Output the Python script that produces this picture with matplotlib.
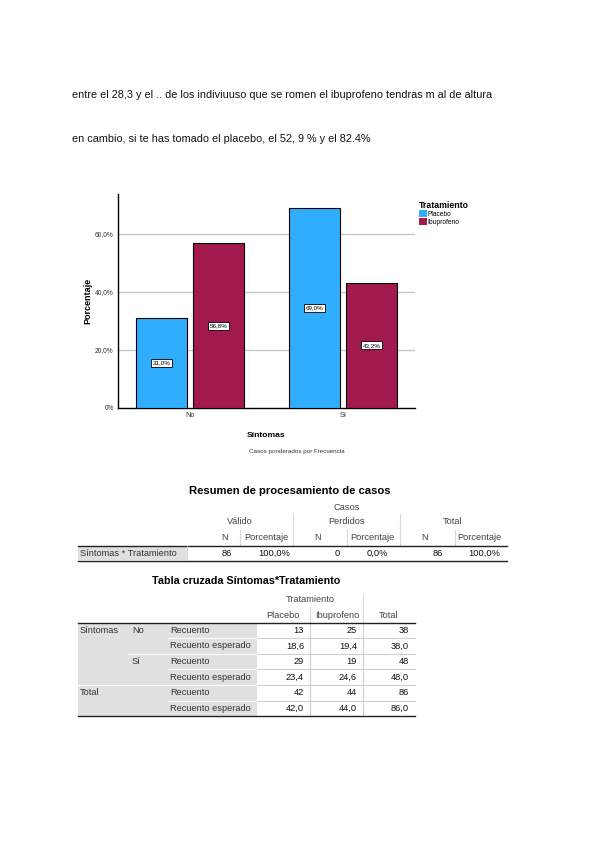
import matplotlib
matplotlib.use("Agg")
import matplotlib.pyplot as plt
from matplotlib.patches import Rectangle
from matplotlib.lines import Line2D

plt.rcParams['font.family'] = ['Liberation Sans', 'DejaVu Sans']

# ---------------- data ----------------
intro_lines = [
    "entre el 28,3 y el .. de los indiviuuso que se romen el ibuprofeno tendras m al de altura",
    "en cambio, si te has tomado el placebo, el 52, 9 % y el 82.4%",
]
categories = ["No", "Sí"]
series_names = ["Placebo", "Ibuprofeno"]
placebo_pct = [31.0, 69.0]
ibuprofeno_pct = [56.8, 43.2]
ytick_vals = [0, 20, 40, 60]
ytick_labels = ["0%", "20,0%", "40,0%", "60,0%"]
colors = ["#30aefd", "#a2194e"]

t1_title = "Resumen de procesamiento de casos"
t1_groups = ["Válido", "Perdidos", "Total"]
t1_subheads = ["N", "Porcentaje", "N", "Porcentaje", "N", "Porcentaje"]
t1_rowlabel = "Síntomas * Tratamiento"
t1_values = ["86", "100,0%", "0", "0,0%", "86", "100,0%"]

t2_title = "Tabla cruzada Síntomas*Tratamiento"
t2_cols = ["Placebo", "Ibuprofeno", "Total"]
t2_group_labels = ["Síntomas", "", "", "", "Total", ""]
t2_level_labels = ["No", "", "Sí", "", "", ""]
t2_stat_labels = ["Recuento", "Recuento esperado"] * 3
t2_values = [
    ["13", "25", "38"],
    ["18,6", "19,4", "38,0"],
    ["29", "19", "48"],
    ["23,4", "24,6", "48,0"],
    ["42", "44", "86"],
    ["42,0", "44,0", "86,0"],
]

# ---------------- figure ----------------
W, H = 600, 848
fig = plt.figure(figsize=(W / 100, H / 100), dpi=100)
fig.patch.set_facecolor("white")


def fx(x):
    return x / W


def fy(y):
    return 1 - y / H


def ftext(x, y, s, **kw):
    kw.setdefault("va", "center")
    fig.text(fx(x), fy(y), s, **kw)


def fline(x0, x1, y0, y1, color="#000000", lw=0.8):
    fig.add_artist(Line2D([fx(x0), fx(x1)], [fy(y0), fy(y1)],
                          transform=fig.transFigure, color=color, lw=lw))


def frect(x0, y0, x1, y1, color):
    fig.add_artist(Rectangle((fx(x0), fy(y1)), fx(x1) - fx(x0), fy(y0) - fy(y1),
                             transform=fig.transFigure, facecolor=color,
                             edgecolor="none"))


TFS = 6.7  # table font size

# intro text
ftext(72, 95, intro_lines[0], fontsize=7.85, color="#111111")
ftext(72, 139, intro_lines[1], fontsize=7.85, color="#111111")

# ---------------- bar chart ----------------
ax_l, ax_r, ax_t, ax_b = 118, 415, 194, 408
ax = fig.add_axes([fx(ax_l), fy(ax_b), fx(ax_r) - fx(ax_l), fy(ax_t) - fy(ax_b)])
width = 0.33
offset = 0.187
xs = list(range(len(categories)))
for i, (vals, name) in enumerate(zip([placebo_pct, ibuprofeno_pct], series_names)):
    pos = [x + (-offset if i == 0 else offset) for x in xs]
    bars = ax.bar(pos, vals, width=width, color=colors[i], edgecolor="black",
                  linewidth=0.8, label=name, zorder=3)
    for b, v in zip(bars, vals):
        ax.text(b.get_x() + b.get_width() / 2, v / 2, f"{v:.1f}%".replace(".", ","),
                ha="center", va="center", fontsize=4.5, zorder=4,
                bbox=dict(boxstyle="square,pad=0.25", facecolor="white",
                          edgecolor="black", linewidth=0.6))

ax.set_xlim(-0.47, 1.47)
ax.set_ylim(0, 73.8)
ax.set_yticks(ytick_vals)
ax.set_yticklabels(ytick_labels, fontsize=4.8, color="#333333")
ax.set_xticks(xs)
ax.set_xticklabels(categories, fontsize=5.3, color="#333333")
ax.tick_params(length=0, pad=3)
for v in ytick_vals[1:]:
    ax.axhline(v, color="#c8c8c8", lw=1.0, zorder=1)
for s in ["top", "right"]:
    ax.spines[s].set_visible(False)
ax.spines["left"].set_linewidth(1.0)
ax.spines["bottom"].set_linewidth(1.0)
ax.set_ylabel("Porcentaje", fontsize=6.5, fontweight="bold", labelpad=2)
ax.set_xlabel("Síntomas", fontsize=6.1, fontweight="bold", labelpad=9)

leg = ax.legend(title="Tratamiento", loc="upper left",
                bbox_to_anchor=(fx(414), fy(196)), bbox_transform=fig.transFigure,
                fontsize=4.8, title_fontsize=6.3, frameon=False,
                handlelength=1.2, handleheight=1.1, handletextpad=0.1,
                labelspacing=0.1, borderpad=0.2, alignment="left")
leg.get_title().set_fontweight("bold")
for p in leg.get_patches():
    p.set_edgecolor("none")

ftext(297, 451, "Casos ponderados por Frecuencia", fontsize=4.5, color="#333333",
      ha="center")

# ---------------- table 1 ----------------
ftext(290, 491, t1_title, fontsize=8.1, fontweight="bold", ha="center")
hdr_col = "#444444"
ftext(347, 508, "Casos", fontsize=TFS, color=hdr_col, ha="center")
for g, cx in zip(t1_groups, [240, 347, 453]):
    ftext(cx, 522, g, fontsize=TFS, color=hdr_col, ha="center")
sub_centers = [225, 266, 318, 372, 425, 479]
for s, cx in zip(t1_subheads, sub_centers):
    ftext(cx, 537, s, fontsize=TFS, color=hdr_col, ha="center")
for x in [293, 400]:
    fline(x, x, 514, 545, color="#d8d8d8", lw=0.8)
for x in [240, 347, 455]:
    fline(x, x, 530, 545, color="#d8d8d8", lw=0.8)
frect(78, 546, 187, 560, "#e0e0e0")
fline(78, 507, 545.5, 545.5, color="#222222", lw=1.0)
fline(78, 507, 561, 561, color="#222222", lw=1.0)
fline(187, 187, 546, 560, color="#d0d0d0", lw=0.6)
ftext(80, 553, t1_rowlabel, fontsize=TFS, color="#333333")
for v, rx in zip(t1_values, [232, 290, 340, 388, 443, 500]):
    ftext(rx, 553, v, fontsize=TFS, color="#111111", ha="right")

# ---------------- table 2 ----------------
ftext(246, 581, t2_title, fontsize=7.75, fontweight="bold", ha="center")
ftext(310, 600, "Tratamiento", fontsize=TFS, color=hdr_col, ha="center")
for c, cx in zip(t2_cols, [283, 337, 389]):
    ftext(cx, 615, c, fontsize=TFS, color=hdr_col, ha="center")
fline(363, 363, 595, 622, color="#d8d8d8", lw=0.8)
fline(310, 310, 607, 622, color="#d8d8d8", lw=0.8)

top = 622.5
rh = 15.6
nrows = len(t2_values)
bottom = top + rh * nrows
frect(78, top, 257, bottom, "#e0e0e0")
# row separators
sep_start = [168, 128, 168, 78, 168]
for i, xs0 in enumerate(sep_start):
    y = top + rh * (i + 1)
    fline(xs0, 257, y, y, color="#ffffff", lw=0.8)
    fline(257, 415, y, y, color="#d0d0d0", lw=0.8)
for x in [310, 363]:
    fline(x, x, top, bottom, color="#d0d0d0", lw=0.8)
fline(78, 415, top, top, color="#222222", lw=1.0)
fline(78, 415, bottom, bottom, color="#222222", lw=1.0)

for i in range(nrows):
    yc = top + rh * (i + 0.5)
    if t2_group_labels[i]:
        ftext(80, yc, t2_group_labels[i], fontsize=TFS, color="#333333")
    if t2_level_labels[i]:
        ftext(132, yc, t2_level_labels[i], fontsize=TFS, color="#333333")
    ftext(170, yc, t2_stat_labels[i], fontsize=TFS, color="#333333")
    for v, rx in zip(t2_values[i], [304, 357, 409]):
        ftext(rx, yc, v, fontsize=TFS, color="#111111", ha="right")

fig.savefig("out.png", dpi=100, facecolor="white")
